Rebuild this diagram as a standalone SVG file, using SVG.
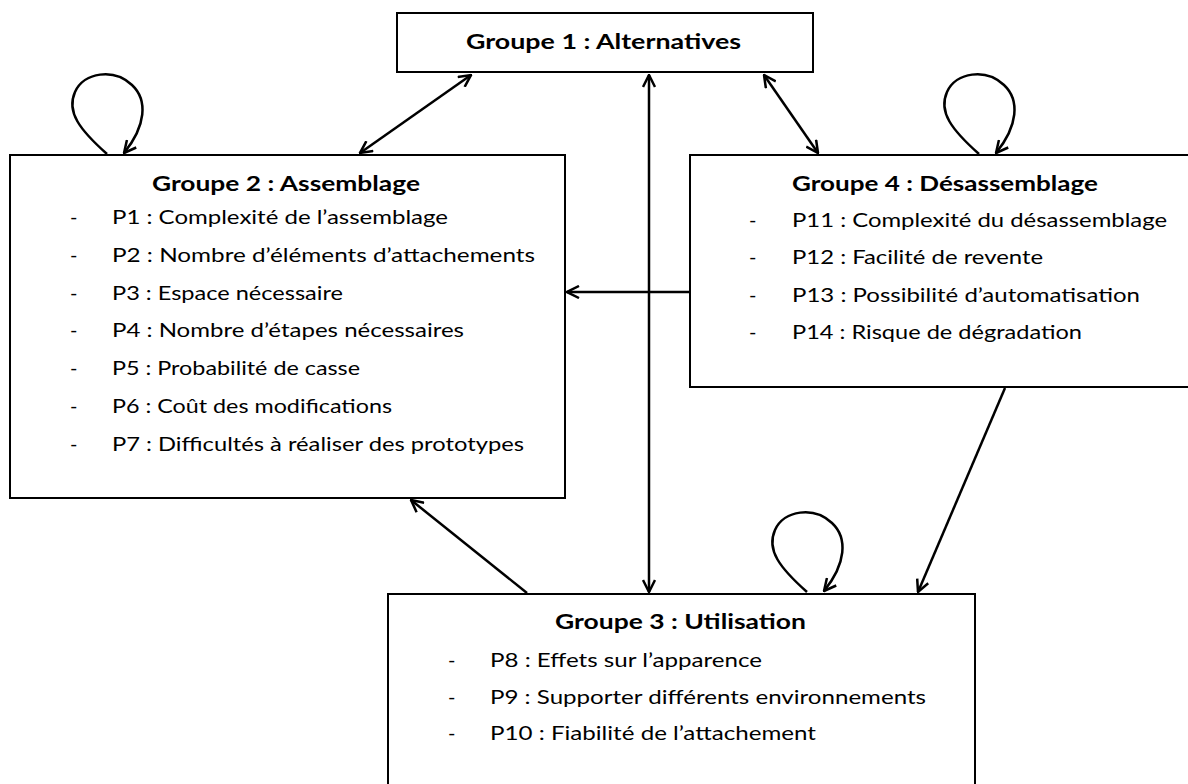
<svg xmlns="http://www.w3.org/2000/svg" width="1188" height="784" viewBox="0 0 1188 784">
<style>
.box{fill:#fff;stroke:#000;stroke-width:2}
.t{font-family:Lato,"Open Sans","Liberation Sans",sans-serif;font-size:20px;fill:#000}
.h{font-weight:bold}
.c{fill:none;stroke:#000;stroke-width:2.5}
</style>
<defs>
<marker id="ah" viewBox="0 0 14 14" refX="13" refY="7" markerWidth="14" markerHeight="14" markerUnits="userSpaceOnUse" orient="auto-start-reverse">
<path d="M1,1 L13,7 L1,13" fill="none" stroke="#000" stroke-width="2.5"/>
</marker>
</defs>
<rect width="1188" height="784" fill="#fff"/>
<g id="connectors">
<line class="c" x1="471" y1="75" x2="360" y2="153" marker-start="url(#ah)" marker-end="url(#ah)"/>
<line class="c" x1="764" y1="75" x2="818" y2="153" marker-start="url(#ah)" marker-end="url(#ah)"/>
<line class="c" x1="649" y1="75" x2="649" y2="592" marker-start="url(#ah)" marker-end="url(#ah)"/>
<line class="c" x1="690" y1="292" x2="567" y2="292" marker-end="url(#ah)"/>
<line class="c" x1="527" y1="593" x2="411" y2="500" marker-end="url(#ah)"/>
<line class="c" x1="1005" y1="388" x2="918" y2="592" marker-end="url(#ah)"/>
<path class="c" d="M107,154 C80,130 66,112 75,92 C84,72 114,68 132,85 C148,100 146,126 124,153" marker-end="url(#ah)"/>
<path class="c" d="M979,154 C952,130 938,112 947,92 C956,72 986,68 1004,85 C1020,100 1018,126 996,153" marker-end="url(#ah)"/>
<path class="c" d="M807,592 C780,568 766,550 775,530 C784,510 814,506 832,523 C848,538 846,564 824,591" marker-end="url(#ah)"/>
</g>
<g id="g1">
<rect class="box" x="397" y="13" width="416" height="59"/>
<text class="t h" x="466" y="49" textLength="275" lengthAdjust="spacingAndGlyphs">Groupe 1 : Alternatives</text>
</g>
<g id="g2">
<rect class="box" x="10" y="155" width="555" height="343"/>
<text class="t h" x="152" y="191" textLength="268" lengthAdjust="spacingAndGlyphs">Groupe 2 : Assemblage</text>
<g class="t">
<text x="70" y="224">-</text><text x="112" y="224" textLength="336" lengthAdjust="spacingAndGlyphs">P1 : Complexité de l’assemblage</text>
<text x="70" y="262">-</text><text x="112" y="262" textLength="423" lengthAdjust="spacingAndGlyphs">P2 : Nombre d’éléments d’attachements</text>
<text x="70" y="300">-</text><text x="112" y="300" textLength="231" lengthAdjust="spacingAndGlyphs">P3 : Espace nécessaire</text>
<text x="70" y="337">-</text><text x="112" y="337" textLength="352" lengthAdjust="spacingAndGlyphs">P4 : Nombre d’étapes nécessaires</text>
<text x="70" y="375">-</text><text x="112" y="375" textLength="248" lengthAdjust="spacingAndGlyphs">P5 : Probabilité de casse</text>
<text x="70" y="413">-</text><text x="112" y="413" textLength="280" lengthAdjust="spacingAndGlyphs">P6 : Coût des modifications</text>
<text x="70" y="451">-</text><text x="112" y="451" textLength="412" lengthAdjust="spacingAndGlyphs">P7 : Difficultés à réaliser des prototypes</text>
</g>
</g>
<g id="g4">
<rect class="box" x="690" y="155" width="510" height="232"/>
<text class="t h" x="792" y="191" textLength="306" lengthAdjust="spacingAndGlyphs">Groupe 4 : Désassemblage</text>
<g class="t">
<text x="749" y="227">-</text><text x="792" y="227" textLength="375" lengthAdjust="spacingAndGlyphs">P11 : Complexité du désassemblage</text>
<text x="749" y="264">-</text><text x="792" y="264" textLength="251" lengthAdjust="spacingAndGlyphs">P12 : Facilité de revente</text>
<text x="749" y="302">-</text><text x="792" y="302" textLength="348" lengthAdjust="spacingAndGlyphs">P13 : Possibilité d’automatisation</text>
<text x="749" y="339">-</text><text x="792" y="339" textLength="290" lengthAdjust="spacingAndGlyphs">P14 : Risque de dégradation</text>
</g>
</g>
<g id="g3">
<rect class="box" x="388" y="594" width="587" height="220"/>
<text class="t h" x="555" y="629" textLength="251" lengthAdjust="spacingAndGlyphs">Groupe 3 : Utilisation</text>
<g class="t">
<text x="448" y="667">-</text><text x="490" y="667" textLength="272" lengthAdjust="spacingAndGlyphs">P8 : Effets sur l’apparence</text>
<text x="448" y="704">-</text><text x="490" y="704" textLength="436" lengthAdjust="spacingAndGlyphs">P9 : Supporter différents environnements</text>
<text x="448" y="740">-</text><text x="490" y="740" textLength="326" lengthAdjust="spacingAndGlyphs">P10 : Fiabilité de l’attachement</text>
</g>
</g>
</svg>
